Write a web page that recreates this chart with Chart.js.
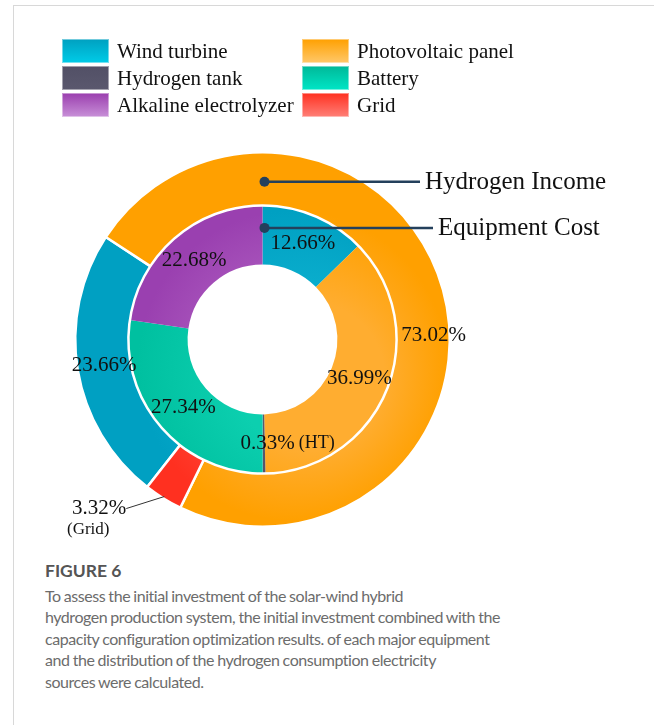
<!DOCTYPE html>
<html>
<head>
<meta charset="utf-8">
<script src="https://cdn.jsdelivr.net/npm/chart.js@4.4.0/dist/chart.umd.min.js"></script>
<style>
  body { margin: 0; background: #fff; width: 654px; height: 725px; position: relative; overflow: hidden; }
  #frame { position: absolute; left: 13px; top: 5px; width: 660px; height: 740px; border-left: 1px solid #d8d8d8; border-top: 1px solid #d8d8d8; }
  #chart { position: absolute; left: 0; top: 0; }
  #caption { position: absolute; left: 45px; top: 560px; font-family: Lato, "Open Sans", sans-serif; color: #6c6c6c; font-size: 16px; line-height: 21.5px; letter-spacing: -0.45px; word-spacing: -0.5px; }
  #caption b { display: block; color: #555; font-size: 17.5px; font-weight: 700; letter-spacing: 0; word-spacing: 0; margin-bottom: 3px; }
</style>
</head>
<body>
<div id="frame"></div>
<canvas id="chart" width="654" height="550"></canvas>
<div id="caption">
  <b>FIGURE 6</b>
  To assess the initial investment of the solar-wind hybrid<br>
  hydrogen production system, the initial investment combined with the<br>
  capacity configuration optimization results. of each major equipment<br>
  and the distribution of the hydrogen consumption electricity<br>
  sources were calculated.
</div>
<script>
// DATA
const categories = ['Wind turbine', 'Photovoltaic panel', 'Hydrogen tank', 'Battery', 'Alkaline electrolyzer', 'Grid'];
const hydrogenIncome = [23.66, 73.02, 0, 0, 0, 3.32];
const equipmentCost = [12.66, 36.99, 0.33, 27.34, 22.68, 0];
const ringNames = ['Hydrogen Income', 'Equipment Cost'];
const labelNotes = ['', '', '(HT)', '', '', '(Grid)'];

// COLOURS
const baseColors = ['#00a0c2', '#ffa000', '#4f4e64', '#00c0a0', '#9a40b0', '#ff3020'];
const lightColors = ['#0cb0cf', '#ffad30', '#5a586e', '#0ccfaf', '#b060c2', '#ff5044'];
const swatchTop = ['#00a0c0', '#ffa000', '#525066', '#00b898', '#9a3eae', '#ff3020'];
const swatchBottom = ['#00cce8', '#ffc86a', '#5a586e', '#00e6c6', '#c890d8', '#ff8078'];

const serif = "'Liberation Serif', 'Times New Roman', serif";

const ringFill = (context) => {
  const chart = context.chart;
  const area = chart.chartArea;
  const i = context.dataIndex;
  if (!area) return baseColors[i];
  const cx = (area.left + area.right) / 2;
  const cy = (area.top + area.bottom) / 2;
  const g = chart.ctx.createRadialGradient(cx + 60, cy + 45, 20, cx + 20, cy + 20, 200);
  g.addColorStop(0, lightColors[i]);
  g.addColorStop(0.3, lightColors[i]);
  g.addColorStop(0.75, baseColors[i]);
  g.addColorStop(1, baseColors[i]);
  return g;
};

// PLUGINS
const legendGrid = {
  id: 'legendGrid',
  afterDraw(chart) {
    const c = chart.ctx;
    c.save();
    c.font = `21px ${serif}`;
    c.textBaseline = 'middle';
    categories.forEach((name, i) => {
      const col = i % 2;
      const row = Math.floor(i / 2);
      const x = col === 0 ? 62 : 302;
      const y = 39 + row * 27;
      const g = c.createLinearGradient(0, y, 0, y + 24);
      g.addColorStop(0, swatchTop[i]);
      g.addColorStop(1, swatchBottom[i]);
      c.fillStyle = g;
      c.fillRect(x, y, 47, 24);
      c.strokeStyle = 'rgba(255,255,255,0.45)';
      c.lineWidth = 1;
      c.strokeRect(x + 0.5, y + 0.5, 46, 23);
      c.fillStyle = '#111';
      c.fillText(name, x + 55, y + 13);
    });
    c.restore();
  }
};

const sliceLabels = {
  id: 'sliceLabels',
  afterDatasetsDraw(chart) {
    const c = chart.ctx;
    c.save();
    c.textBaseline = 'middle';
    c.fillStyle = '#111';
    chart.data.datasets.forEach((ds, di) => {
      const meta = chart.getDatasetMeta(di);
      meta.data.forEach((arc, i) => {
        const v = ds.data[i];
        if (!v) return;
        const p = arc.getProps(['x', 'y', 'startAngle', 'endAngle', 'innerRadius', 'outerRadius'], true);
        const text = v.toFixed(2) + '%';
        c.font = `21px ${serif}`;
        c.textAlign = 'center';
        if (di === 0 && i === 1) {
          const a = p.startAngle + 0.553 * (p.endAngle - p.startAngle);
          const r = p.outerRadius - 16;
          c.fillText(text, p.x + r * Math.cos(a), p.y + r * Math.sin(a));
        } else if (di === 0 && labelNotes[i]) {
          const a = (p.startAngle + p.endAngle) / 2;
          const ax = p.x + (p.outerRadius - 2) * Math.cos(a);
          const ay = p.y + (p.outerRadius - 2) * Math.sin(a);
          const tx = ax - 38, ty = ay + 12;
          c.strokeStyle = '#333';
          c.lineWidth = 1;
          c.beginPath();
          c.moveTo(ax, ay);
          c.lineTo(tx, ty);
          c.stroke();
          c.textAlign = 'right';
          c.fillText(text, tx, ty);
          c.font = `17px ${serif}`;
          c.textAlign = 'center';
          c.fillText(labelNotes[i], tx - 38, ty + 21);
        } else if (labelNotes[i]) {
          const pos = arc.tooltipPosition(true);
          c.fillText(text, pos.x + 4, pos.y);
          c.font = `18px ${serif}`;
          c.textAlign = 'left';
          c.fillText(labelNotes[i], pos.x + 35, pos.y - 1);
        } else {
          const pos = arc.tooltipPosition(true);
          c.fillText(text, pos.x, pos.y);
        }
      });
    });
    c.restore();
  }
};

const ringTitles = {
  id: 'ringTitles',
  afterDraw(chart) {
    const c = chart.ctx;
    c.save();
    const ends = [420, 433];
    ringNames.forEach((name, di) => {
      const arc = chart.getDatasetMeta(di).data[0];
      const p = arc.getProps(['x', 'y', 'innerRadius', 'outerRadius'], true);
      const r = di === 0 ? (p.innerRadius + p.outerRadius) / 2 - 3 : p.innerRadius + 0.62 * (p.outerRadius - p.innerRadius);
      const dx = p.x + 2;
      const dy = p.y - r;
      c.strokeStyle = '#24405c';
      c.fillStyle = '#24405c';
      c.lineWidth = 2.5;
      c.beginPath();
      c.moveTo(dx, dy);
      c.lineTo(ends[di], dy);
      c.stroke();
      c.beginPath();
      c.arc(dx, dy, 5, 0, Math.PI * 2);
      c.fill();
      c.fillStyle = '#111';
      c.font = `25px ${serif}`;
      c.textBaseline = 'middle';
      c.textAlign = 'left';
      c.fillText(name, ends[di] + 5, dy + 1);
    });
    c.restore();
  }
};

// CHART
const ctx = document.getElementById('chart');
new Chart(ctx, {
  type: 'doughnut',
  data: {
    labels: categories,
    datasets: [
      {
        label: ringNames[0],
        data: hydrogenIncome,
        backgroundColor: ringFill,
        borderColor: '#ffffff',
        borderWidth: 2.5,
        rotation: -142,
        weight: 1
      },
      {
        label: ringNames[1],
        data: equipmentCost,
        backgroundColor: ringFill,
        borderWidth: 0,
        rotation: 0,
        weight: 1.113
      }
    ]
  },
  options: {
    responsive: false,
    animation: false,
    devicePixelRatio: 1,
    cutout: '40%',
    hoverOffset: 0,
    layout: { padding: { left: 74, right: 203, top: 151, bottom: 22 } },
    plugins: {
      legend: { display: false },
      tooltip: { enabled: false }
    }
  },
  plugins: [legendGrid, sliceLabels, ringTitles]
});
</script>
</body>
</html>
